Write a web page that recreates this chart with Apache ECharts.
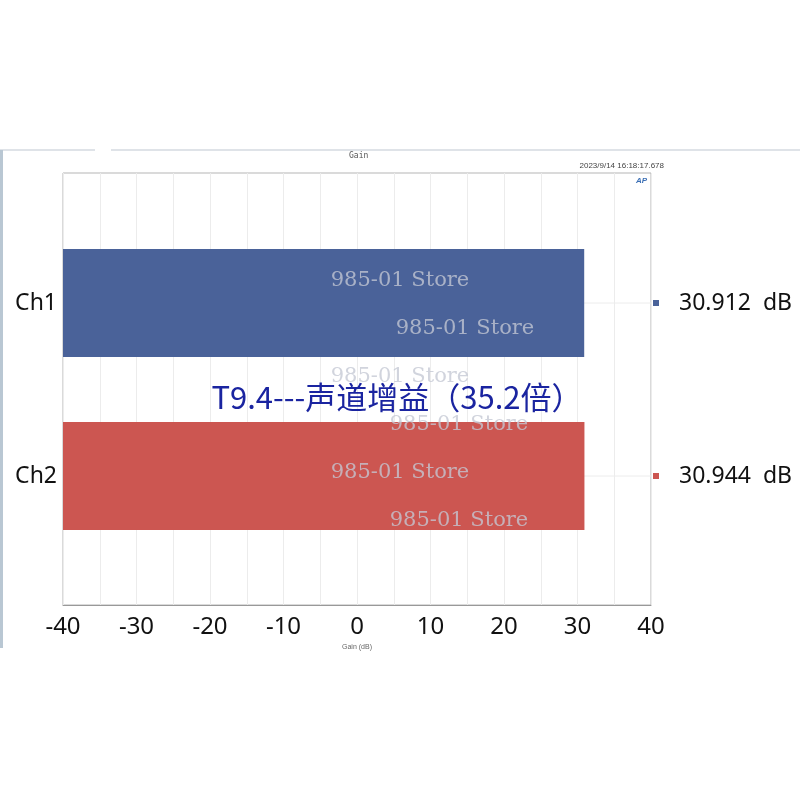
<!DOCTYPE html>
<html>
<head>
<meta charset="utf-8">
<script src="https://cdn.jsdelivr.net/npm/echarts@6/dist/echarts.min.js"></script>
<style>
  html, body { margin: 0; padding: 0; background: #fff; }
  #chart { width: 800px; height: 800px; }
</style>
</head>
<body>
<div id="chart"></div>
<script>
var channels = ['Ch1', 'Ch2'];
var gains = [30.912, 30.944];
var barColors = ['#4a6299', '#cc5651'];
var xMin = -40, xMax = 40;
var unit = 'dB';
var watermark = '985-01 Store';

var myChart = echarts.init(document.getElementById('chart'));

// thin rect per channel drawn from the left edge of the frame
function renderBar(params, api) {
    var cat = api.value(1);
    var start = api.coord([xMin, cat]);
    var end = api.coord([api.value(0), cat]);
    var right = api.coord([xMax, cat]);
    var h = 108;
    return {
        type: 'group',
        children: [
            {
                type: 'line',
                shape: { x1: start[0], y1: start[1], x2: right[0], y2: start[1] },
                style: { stroke: '#ececec', lineWidth: 1 },
                z2: 1
            },
            {
                type: 'rect',
                shape: { x: start[0], y: start[1] - h / 2, width: end[0] - start[0], height: h },
                style: { fill: barColors[params.dataIndex] },
                z2: 2
            }
        ]
    };
}

var rich = { v: { fontSize: 23, color: '#111', fontFamily: 'Noto Sans', padding: [0, 0, 0, 20] } };
barColors.forEach(function (c, i) {
    rich['m' + i] = { width: 6, height: 6, backgroundColor: c };
});

var wmPos = [[400, 281], [465, 329], [400, 377], [459, 425], [400, 473], [459, 521]];
var graphics = [
    { type: 'line', shape: { x1: 0, y1: 150, x2: 95, y2: 150 }, style: { stroke: '#dfe3e8', lineWidth: 2 } },
    { type: 'line', shape: { x1: 111, y1: 150, x2: 800, y2: 150 }, style: { stroke: '#dfe3e8', lineWidth: 2 } },
    { type: 'rect', shape: { x: 0, y: 150, width: 3, height: 498 }, style: { fill: '#b9c7d3' } },
    { type: 'text', left: 349, top: 152, style: { text: 'Gain', fontSize: 8, fill: '#555', fontFamily: 'DejaVu Sans Mono' } },
    { type: 'text', right: 136, top: 162, style: { text: '2023/9/14 16:18:17.678', fontSize: 8, fill: '#444', fontFamily: 'Liberation Sans' } },
    { type: 'text', left: 636, top: 177, style: { text: 'AP', fontSize: 8, fontStyle: 'italic', fontWeight: 'bold', fill: '#3b6fb5' } }
];
wmPos.forEach(function (p) {
    graphics.push({
        type: 'text', x: p[0], y: p[1], z: 20,
        style: {
            text: watermark, fontSize: 21, fontFamily: 'DejaVu Serif',
            fill: 'rgba(196,200,212,0.78)', align: 'center', verticalAlign: 'middle'
        }
    });
});
graphics.push({
    type: 'text', x: 397, y: 397, z: 30,
    style: {
        text: 'T9.4---声道增益（35.2倍）', fontSize: 31, fontFamily: 'Noto Sans CJK SC',
        fill: '#1a24a0', align: 'center', verticalAlign: 'middle'
    }
});

var option = {
    backgroundColor: '#fff',
    animation: false,
    grid: [
        { left: 63, width: 588, top: 173, height: 432, show: true, borderColor: '#b5b5b5', borderWidth: 1 },
        { left: 63, width: 588, top: 216.5, height: 346 }
    ],
    xAxis: [
        {
            gridIndex: 0, type: 'value', min: xMin, max: xMax, interval: 5,
            name: 'Gain (dB)', nameLocation: 'middle', nameGap: 37,
            nameTextStyle: { fontSize: 7, color: '#666' },
            axisLine: { show: true, lineStyle: { color: '#999' } },
            axisTick: { show: false },
            axisLabel: {
                fontSize: 24, color: '#111', margin: 10, fontFamily: 'Noto Sans',
                formatter: function (v) { return v % 10 === 0 ? String(v) : ''; }
            },
            splitLine: { show: true, lineStyle: { color: '#ececec' } }
        },
        { gridIndex: 1, type: 'value', min: xMin, max: xMax, show: false }
    ],
    yAxis: [
        { gridIndex: 0, type: 'value', show: false },
        {
            gridIndex: 1, type: 'category', data: channels, inverse: true,
            axisLine: { show: false }, axisTick: { show: false },
            axisLabel: { fontSize: 23, color: '#111', margin: 6, fontFamily: 'Noto Sans' }
        },
        {
            gridIndex: 1, type: 'category', data: channels, inverse: true, position: 'right',
            axisLine: { show: false }, axisTick: { show: false },
            axisLabel: {
                margin: 2, align: 'left', rich: rich,
                formatter: function (v, i) {
                    return '{m' + i + '|}{v|' + gains[i].toFixed(3) + '  ' + unit + '}';
                }
            }
        }
    ],
    series: [
        {
            type: 'custom',
            xAxisIndex: 1,
            yAxisIndex: 1,
            renderItem: renderBar,
            data: gains.map(function (g, i) { return [g, i]; })
        }
    ],
    graphic: graphics
};

myChart.setOption(option);

window.addEventListener('resize', function () {
    myChart.resize();
});
</script>
</body>
</html>
